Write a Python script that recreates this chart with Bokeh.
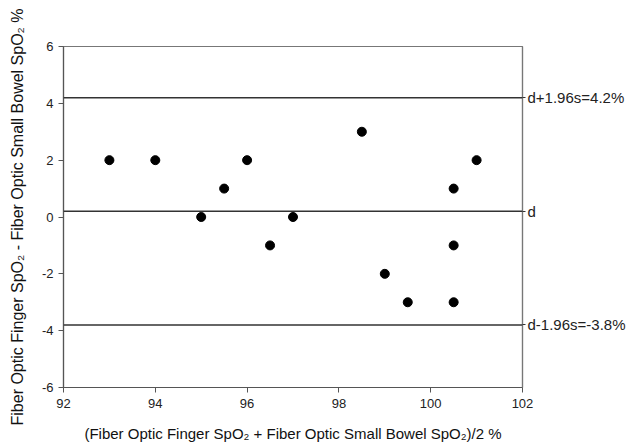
from bokeh.plotting import figure
from bokeh.models import Span, FixedTicker, LinearAxis, CustomJSTickFormatter
from bokeh.embed import file_html
from bokeh.resources import INLINE

# Data
mean_x = [93, 94, 95, 95.5, 96, 96.5, 97, 98.5, 99, 99.5, 100.5, 100.5, 100.5, 101]
diff_y = [2, 2, 0, 1, 2, -1, 0, 3, -2, -3, 1, -1, -3, 2]
line_values = [4.2, 0.2, -3.8]
line_labels = ["d+1.96s=4.2%", "d", "d-1.96s=-3.8%"]
x_ticks = [92, 94, 96, 98, 100, 102]
y_ticks = [-6, -4, -2, 0, 2, 4, 6]

FONT = "Liberation Sans"

p = figure(width=628, height=445, output_backend="svg", toolbar_location=None,
           x_range=(92, 102), y_range=(-6, 6),
           min_border_left=63, min_border_right=106, min_border_top=46, min_border_bottom=58)

p.grid.visible = False
p.background_fill_color = "white"
p.border_fill_color = "white"
p.outline_line_color = "#777777"
p.outline_line_width = 1.2

plain = CustomJSTickFormatter(code="return tick.toString();")

p.xaxis.ticker = FixedTicker(ticks=x_ticks)
p.yaxis.ticker = FixedTicker(ticks=y_ticks)
for ax in (p.xaxis, p.yaxis):
    ax.formatter = plain
    ax.minor_tick_line_color = None
    ax.major_tick_in = 0
    ax.major_tick_out = 5
    ax.axis_line_color = "#555555"
    ax.major_tick_line_color = "#555555"
    ax.axis_line_width = 1.2
    ax.major_label_text_font = FONT
    ax.major_label_text_font_size = "13px"
    ax.major_label_text_color = "#222222"
    ax.axis_label_text_font = FONT
    ax.axis_label_text_font_style = "normal"
    ax.axis_label_text_color = "#111111"

p.xaxis.axis_label_text_font_size = "15px"
p.yaxis.axis_label_text_font_size = "16px"
p.xaxis.axis_label = "(Fiber Optic Finger SpO\u2082 + Fiber Optic Small Bowel SpO\u2082)/2 %"
p.yaxis.axis_label = "Fiber Optic Finger SpO\u2082 - Fiber Optic Small Bowel SpO\u2082 %"
p.xaxis.major_label_standoff = 6
p.xaxis.axis_label_standoff = 14
p.yaxis.axis_label_standoff = 13

for v in line_values:
    p.add_layout(Span(location=v, dimension="width", line_color="#333333", line_width=1.5))

right = LinearAxis(
    ticker=FixedTicker(ticks=line_values),
    formatter=CustomJSTickFormatter(
        args=dict(vals=line_values, labs=line_labels),
        code="for (let i = 0; i < vals.length; i++) { if (Math.abs(tick - vals[i]) < 1e-6) return labs[i]; } return '';"),
    axis_line_color="#777777", axis_line_width=1.2,
    major_tick_in=0, major_tick_out=3, major_tick_line_color="#333333",
    minor_tick_line_color=None, major_label_standoff=2,
    major_label_text_font=FONT, major_label_text_font_size="15px",
    major_label_text_color="#222222")
p.add_layout(right, "right")

p.scatter(mean_x, diff_y, size=9, color="black")

open("out.html", "w").write(file_html(p, INLINE))
